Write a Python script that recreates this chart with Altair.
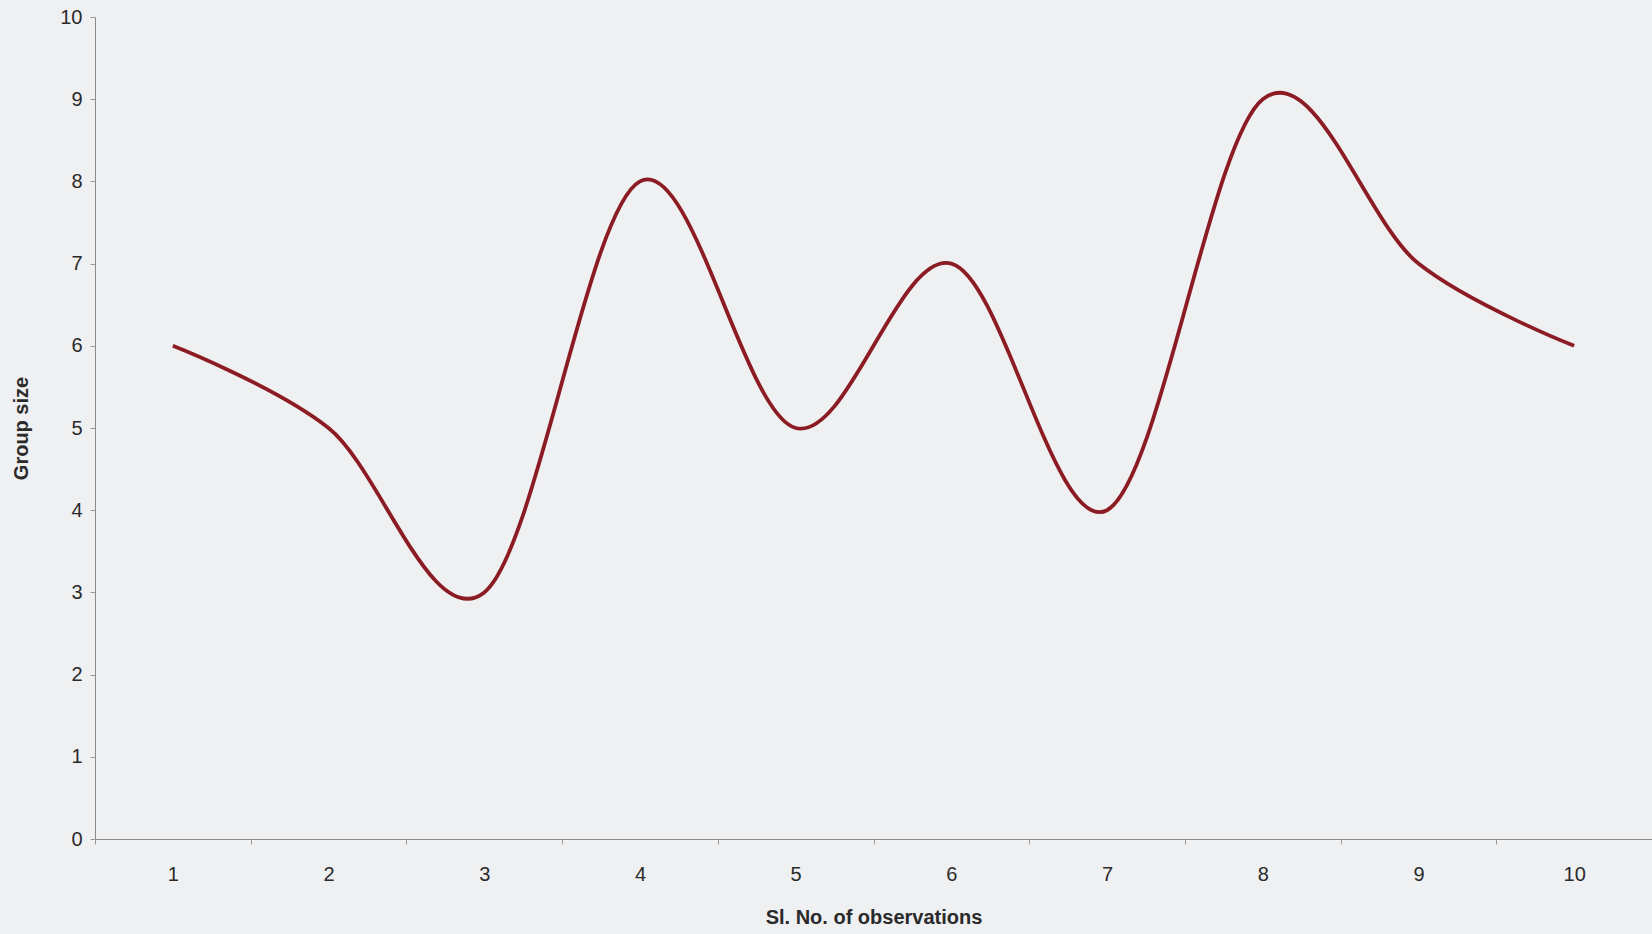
import altair as alt
import pandas as pd

observations = [1, 2, 3, 4, 5, 6, 7, 8, 9, 10]
group_size = [6, 5, 3, 8, 5, 7, 4, 9, 7, 6]

df = pd.DataFrame({"obs": observations, "size": group_size})

font = "Liberation Sans"

chart = alt.Chart(df).mark_line(
    interpolate="cardinal", color="#8c1c24", strokeWidth=3.8
).encode(
    x=alt.X(
        "obs:O",
        title="Sl. No. of observations",
        scale=alt.Scale(paddingInner=0, paddingOuter=0),
        axis=alt.Axis(
            labelAngle=0, tickBand="extent", labelPadding=20,
            titlePadding=23,
        ),
    ),
    y=alt.Y(
        "size:Q",
        title="Group size",
        scale=alt.Scale(domain=[0, 10]),
        axis=alt.Axis(values=list(range(0, 11)), grid=False, titlePadding=28),
    ),
).properties(
    width=1557, height=822,
    background="#eff0f2",
    padding={"left": 95, "top": 17, "right": 0, "bottom": 95},
    autosize=alt.AutoSizeParams(type="none"),
).configure_view(
    stroke=None
).configure_axis(
    domainColor="#8a8a8a", tickColor="#9a9a9a", tickSize=5,
    labelFont=font, labelFontSize=20, labelColor="#2a2a2a",
    titleFont=font, titleFontSize=20, titleFontWeight="bold", titleColor="#2a2a2a",
    labelPadding=8,
)

chart.save("out.html", embed_options={"renderer": "svg", "actions": False})
